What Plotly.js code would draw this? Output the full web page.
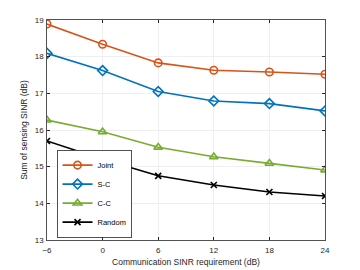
<!DOCTYPE html>
<html><head><meta charset="utf-8">
<script src="https://cdn.plot.ly/plotly-3.0.1.min.js"></script>
<style>html,body{margin:0;padding:0;background:#fff}#c{width:360px;height:270px}</style>
</head><body><div id="c"></div>
<script>
const xVals = [-6, 0, 6, 12, 18, 24];
const joint = [18.89, 18.34, 17.83, 17.63, 17.58, 17.52];
const sc = [18.09, 17.62, 17.05, 16.79, 16.72, 16.52];
const cc = [16.27, 15.95, 15.53, 15.27, 15.09, 14.91];
const rnd = [15.70, 15.20, 14.75, 14.50, 14.31, 14.20];
const names = ['Joint', 'S-C', 'C-C', 'Random'];
const colors = ['#D95319', '#0072BD', '#77AC30', '#000000'];
const symbols = ['circle-open', 'diamond-open', 'triangle-up-open', 'x-thin-open'];
const series = [joint, sc, cc, rnd];
const traces = series.map((y, i) => ({
  x: xVals, y: y, name: names[i], type: 'scatter', mode: 'lines+markers',
  line: {color: colors[i], width: 1.6},
  marker: {symbol: symbols[i], size: i === 3 ? 6 : 7.5, color: colors[i], line: {color: colors[i], width: 1.6}}
}));
const fam = 'Liberation Sans, Arial, sans-serif';
const axisCommon = {
  showline: true, linecolor: '#262626', linewidth: 0.8, mirror: 'ticks',
  ticks: 'inside', ticklen: 3, tickcolor: '#262626',
  showgrid: true, gridcolor: '#ebebeb', gridwidth: 0.8, zeroline: false,
  tickfont: {family: fam, size: 8, color: '#262626'}
};
const layout = {
  width: 360, height: 270,
  margin: {l: 47, r: 35, t: 20, b: 30},
  paper_bgcolor: '#fff', plot_bgcolor: '#fff',
  showlegend: true,
  legend: {x: 0.035, y: 0.01, xanchor: 'left', yanchor: 'bottom',
    bgcolor: '#fff', bordercolor: '#262626', borderwidth: 0.8,
    font: {family: fam, size: 7.5, color: '#000'},
    tracegroupgap: 0, itemwidth: 30},
  xaxis: Object.assign({}, axisCommon, {range: [-6, 24], tickvals: xVals, ticklabelstandoff: 3,
    title: {text: 'Communication SINR requirement (dB)', standoff: 4,
      font: {family: fam, size: 8.5, color: '#262626'}}}),
  yaxis: Object.assign({}, axisCommon, {range: [13, 19], dtick: 1, ticklabelstandoff: 1,
    title: {text: 'Sum of sensing SINR (dB)', standoff: 5,
      font: {family: fam, size: 8.5, color: '#262626'}}})
};
Plotly.newPlot('c', traces, layout, {displayModeBar: false, staticPlot: true});
</script></body></html>
